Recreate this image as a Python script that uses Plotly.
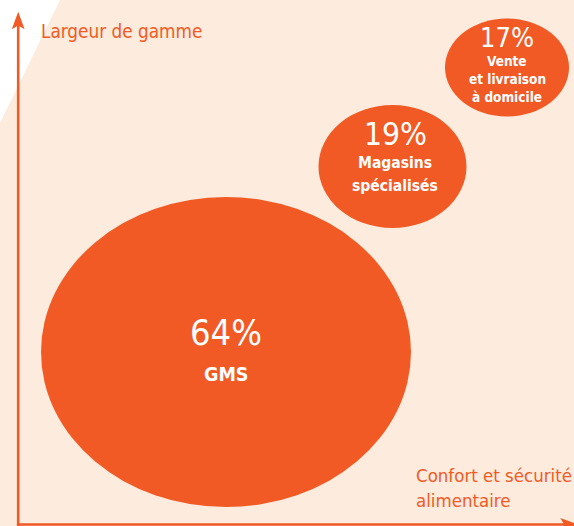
import plotly.graph_objects as go

# Parts de marché par canal de distribution
canaux = ["GMS", "Magasins spécialisés", "Vente et livraison à domicile"]
lignes_canal = [["GMS"], ["Magasins", "spécialisés"], ["Vente", "et livraison", "à domicile"]]
parts = [64, 19, 17]

titre_axe_y = "Largeur de gamme"
titre_axe_x = ["Confort et sécurité", "alimentaire"]

# Placement des bulles (unités du repère, origine en haut à gauche)
centre_x = [226, 392.5, 507]
centre_y = [352, 166.5, 67.5]
rayon_x = [185, 74, 62]
rayon_y = [155, 61.5, 49]

# Typographie des étiquettes de bulle
taille_pct = [36, 31.5, 27]
pct_x = [226, 395, 507]
pct_y = [332, 134, 37]
taille_lib = [19.5, 15.5, 13.5]
lib_y0 = [374.5, 163, 61]
lib_pas = [0, 23, 17.8]

ORANGE = "#F15A24"
FOND = "#FDEBDD"
POLICE = "DejaVu Sans Condensed, Liberation Sans Narrow, Liberation Sans, sans-serif"

W, H = 574, 526

fig = go.Figure()
fig.add_trace(go.Scatter(x=[0, W], y=[0, H], mode="markers",
                         marker=dict(opacity=0), hoverinfo="skip", showlegend=False))

shapes = []
# fond pêche avec l'angle blanc en haut à gauche
shapes.append(dict(type="path", xref="x", yref="y", layer="below",
                   path=f"M 60,0 L {W},0 L {W},{H} L 0,{H} L 0,123 Z",
                   fillcolor=FOND, line=dict(width=0)))

# bulles
for cx, cy, rx, ry in zip(centre_x, centre_y, rayon_x, rayon_y):
    shapes.append(dict(type="circle", xref="x", yref="y", layer="below",
                       x0=cx - rx, x1=cx + rx, y0=cy - ry, y1=cy + ry,
                       fillcolor=ORANGE, line=dict(width=0)))

# axes fléchés
ax_x, ax_y = 18.2, 524.5
shapes.append(dict(type="line", xref="x", yref="y", x0=ax_x, x1=ax_x, y0=H, y1=24,
                   line=dict(color=ORANGE, width=2.6)))
shapes.append(dict(type="line", xref="x", yref="y", x0=ax_x - 1.3, x1=566, y0=ax_y, y1=ax_y,
                   line=dict(color=ORANGE, width=2.4)))
shapes.append(dict(type="path", xref="x", yref="y",
                   path=f"M {ax_x},11.7 L {ax_x + 6.4},29.3 L {ax_x},25.6 L {ax_x - 6.4},29.3 Z",
                   fillcolor=ORANGE, line=dict(width=0)))
shapes.append(dict(type="path", xref="x", yref="y",
                   path=f"M 578,{ax_y} L 560.4,{ax_y - 6.4} L 564.1,{ax_y} L 560.4,{ax_y + 6.4} Z",
                   fillcolor=ORANGE, line=dict(width=0)))

annotations = []
for i, p in enumerate(parts):
    annotations.append(dict(x=pct_x[i], y=pct_y[i], xref="x", yref="y",
                            text=f"{p}%", showarrow=False,
                            xanchor="center", yanchor="middle",
                            font=dict(family=POLICE, size=taille_pct[i], color="white")))
    for k, ligne in enumerate(lignes_canal[i]):
        annotations.append(dict(x=pct_x[i], y=lib_y0[i] + k * lib_pas[i], xref="x", yref="y",
                                text=f"<b>{ligne}</b>", showarrow=False,
                                xanchor="center", yanchor="middle",
                                font=dict(family=POLICE, size=taille_lib[i], color="white")))

annotations.append(dict(x=38.5, y=31.7, xref="x", yref="y", text=titre_axe_y,
                        showarrow=False, xanchor="left", yanchor="middle",
                        font=dict(family=POLICE, size=18.8, color=ORANGE)))
for k, ligne in enumerate(titre_axe_x):
    annotations.append(dict(x=413.5, y=475.7 + k * 24.3, xref="x", yref="y", text=ligne,
                            showarrow=False, xanchor="left", yanchor="middle",
                            font=dict(family=POLICE, size=18.5, color=ORANGE)))

fig.update_layout(
    width=W, height=H,
    margin=dict(l=0, r=0, t=0, b=0),
    paper_bgcolor="white", plot_bgcolor="white",
    xaxis=dict(range=[0, W], visible=False, fixedrange=True),
    yaxis=dict(range=[H, 0], visible=False, fixedrange=True),
    shapes=shapes, annotations=annotations,
    showlegend=False,
)

fig.write_html("out.html", config=dict(displayModeBar=False))
